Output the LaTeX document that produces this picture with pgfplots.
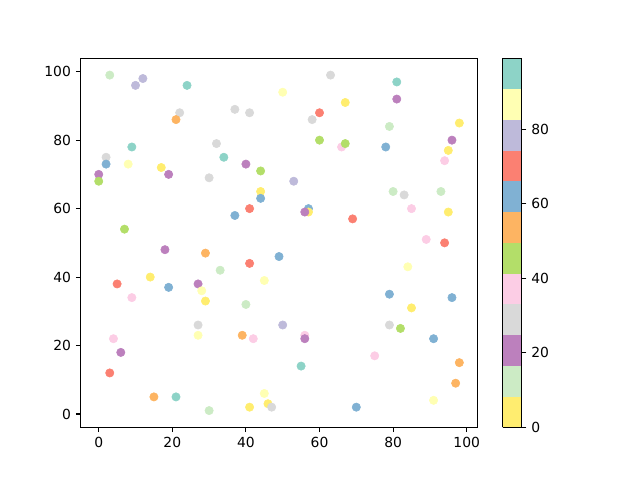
\documentclass[border=0pt]{standalone}
\usepackage{pgfplots}
\pgfplotsset{compat=1.18}
\usepackage{fontspec}
\setmainfont{DejaVu Sans}
\begin{document}
\begin{tikzpicture}
\path[use as bounding box] (0,0) rectangle (460.8pt,345.6pt);
\begin{axis}[
  at={(58.1pt,37.9pt)}, anchor=south west,
  scale only axis, width=285.6pt, height=265.7pt,
  xmin=-4.9, xmax=102.9, ymin=-3.9, ymax=103.9,
  xtick={0,20,40,60,80,100}, ytick={0,20,40,60,80,100},
  tick align=outside, tick pos=left,
  major tick length=3.5pt,
  every tick/.style={black, line width=0.8pt},
  axis line style={line width=0.8pt},
  ticklabel style={font=\fontsize{10}{12}\selectfont},
  /pgf/number format/assume math mode=true,
  colormap={set3r}{rgb255=(255,237,111) rgb255=(204,235,197) rgb255=(188,128,189) rgb255=(217,217,217) rgb255=(252,205,229) rgb255=(179,222,105) rgb255=(253,180,98) rgb255=(128,177,211) rgb255=(251,128,114) rgb255=(190,186,218) rgb255=(255,255,179) rgb255=(141,211,199)},
  colormap access=piecewise constant,
  point meta min=0, point meta max=99,
  colorbar,
  colorbar style={
    at={(parent axis.north east)}, anchor=north west, xshift=9.6pt,
    width=13.7pt,
    ytick={0,20,40,60,80},
    minor y tick num=0, minor ytick={}, extra y ticks={},
    tick align=outside,
    ytick pos=right,
    major tick length=3.5pt,
    every tick/.style={black, line width=0.8pt},
    axis line style={line width=0.8pt},
    yticklabel style={font=\fontsize{10}{12}\selectfont},
    /pgf/number format/assume math mode=true,
  },
]
\addplot[scatter, only marks, mark=*, mark size=3pt,
  scatter/use mapped color={draw=mapped color, fill=mapped color},
  point meta=explicit] table[meta=c] {
x y c
3 99 12
10 96 78
12 98 78
24 96 95
22 88 29
21 86 54
37 89 29
41 88 29
50 94 87
32 79 29
34 75 95
40 73 21
44 71 45
44 65 4
44 63 62
41 60 70
37 58 62
30 69 29
9 78 95
2 75 29
2 73 62
8 73 87
0 70 21
0 68 45
17 72 4
19 70 21
7 54 45
63 99 29
81 97 95
81 92 21
67 91 4
60 88 70
58 86 29
79 84 12
98 85 4
60 80 45
66 78 37
67 79 45
78 78 62
96 80 21
95 77 4
94 74 37
53 68 78
80 65 12
83 64 29
93 65 12
57 60 62
57 59 4
56 59 21
85 60 37
95 59 4
69 57 70
89 51 37
94 50 70
18 48 21
29 47 54
41 44 70
49 46 62
33 42 12
14 40 4
5 38 70
19 37 62
27 38 21
28 36 87
29 33 4
45 39 87
9 34 37
40 32 12
27 26 29
27 23 87
39 23 54
42 22 37
50 26 78
4 22 37
6 18 21
3 12 70
15 5 54
21 5 95
30 1 12
41 2 4
45 6 87
46 3 4
47 2 29
84 43 87
79 35 62
96 34 62
85 31 4
79 26 29
82 25 45
91 22 62
56 23 37
56 22 21
75 17 37
55 14 95
98 15 54
97 9 54
91 4 87
70 2 62
};
\end{axis}
\end{tikzpicture}
\end{document}
